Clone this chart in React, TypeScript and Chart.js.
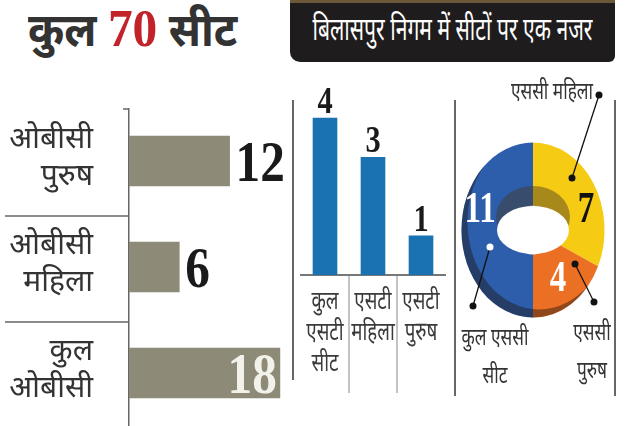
import React, { useEffect, useRef } from "react";
import { Chart, registerables } from "chart.js";

Chart.register(...registerables);

// ---------- data ----------
const titleLeft = "कुल";
const titleNumber = "70";
const titleRight = "सीट";
const headerText = "बिलासपुर निगम में सीटों पर एक नजर";

const obcLabels = [["ओबीसी", "पुरुष"], ["ओबीसी", "महिला"], ["कुल", "ओबीसी"]];
const obcValues = [12, 6, 18];

const stLabels = [["कुल", "एसटी", "सीट"], ["एसटी", "महिला"], ["एसटी", "पुरुष"]];
const stValues = [4, 3, 1];

const scLabels = [["एससी महिला"], ["एससी", "पुरुष"], ["कुल एससी", "सीट"]];
const scValues = [7, 4, 11];

// ---------- styles ----------
const DEV = '"Noto Sans Devanagari", "Lohit Devanagari", "Noto Sans", sans-serif';
const NUM = '"Liberation Serif", "DejaVu Serif", serif';
const OBC_COLOR = "#8d8a77";
const ST_COLOR = "#1b72b2";
const SC_COLORS = ["#f6cb14", "#ec7024", "#2c5eab"];
const LINE = "#666";

function drawNum(
  ctx: CanvasRenderingContext2D,
  text: string,
  x: number,
  y: number,
  size: number,
  color: string,
  align: CanvasTextAlign,
  sx = 0.85
) {
  ctx.save();
  ctx.translate(x, y);
  ctx.scale(sx, 1);
  ctx.font = `bold ${size}px ${NUM}`;
  ctx.fillStyle = color;
  ctx.textAlign = align;
  ctx.textBaseline = "alphabetic";
  ctx.fillText(text, 0, 0);
  ctx.restore();
}

function drawText(
  ctx: CanvasRenderingContext2D,
  text: string,
  x: number,
  y: number,
  size: number,
  color: string,
  align: CanvasTextAlign,
  sx = 0.75
) {
  ctx.save();
  ctx.translate(x, y);
  ctx.scale(sx, 1);
  ctx.font = `${size}px ${DEV}`;
  ctx.fillStyle = color;
  ctx.textAlign = align;
  ctx.textBaseline = "alphabetic";
  ctx.fillText(text, 0, 0);
  ctx.restore();
}

const obcPlugin = {
  id: "obcDeco",
  afterDraw(chart: any) {
    const { ctx, chartArea } = chart;
    const y = chart.scales.y;
    ctx.save();
    ctx.strokeStyle = LINE;
    ctx.lineWidth = 1.5;
    for (let i = 1; i < obcValues.length; i++) {
      const py = (y.getPixelForTick(i - 1) + y.getPixelForTick(i)) / 2 + 2;
      ctx.beginPath();
      ctx.moveTo(5, py);
      ctx.lineTo(chartArea.left, py);
      ctx.stroke();
    }
    ctx.beginPath();
    ctx.moveTo(chartArea.left - 6, chartArea.top + 1);
    ctx.lineTo(chartArea.left, chartArea.top + 1);
    ctx.stroke();
    ctx.restore();

    const meta = chart.getDatasetMeta(0);
    const size = 56;
    const sx = 0.88;
    meta.data.forEach((bar: any, i: number) => {
      const text = String(obcValues[i]);
      ctx.save();
      ctx.font = `bold ${size}px ${NUM}`;
      const w = ctx.measureText(text).width * sx;
      ctx.restore();
      const base = bar.y + 20;
      if (bar.x + 7 + w > chart.width) {
        drawNum(ctx, text, bar.x - 3, base, size, "#f3f2ea", "right", sx);
      } else {
        drawNum(ctx, text, bar.x + 6, base, size, "#1a1a1a", "left", sx);
      }
    });
  },
};

const stPlugin = {
  id: "stDeco",
  afterDraw(chart: any) {
    const { ctx, chartArea } = chart;
    const x = chart.scales.x;
    ctx.save();
    ctx.strokeStyle = "#888";
    ctx.lineWidth = 1;
    for (let i = 1; i < stValues.length; i++) {
      const px = (x.getPixelForTick(i - 1) + x.getPixelForTick(i)) / 2;
      ctx.beginPath();
      ctx.moveTo(px, chartArea.bottom);
      ctx.lineTo(px, chartArea.bottom + 118);
      ctx.stroke();
    }
    ctx.restore();
    x.ticks.forEach((t: any, i: number) => {
      const px = x.getPixelForTick(i);
      stLabels[i].forEach((line, k) => {
        drawText(ctx, line, px, chartArea.bottom + 34 + k * 31, 26, "#3a3a3a", "center", 0.72);
      });
    });
    const meta = chart.getDatasetMeta(0);
    meta.data.forEach((bar: any, i: number) => {
      drawNum(ctx, String(stValues[i]), bar.x, bar.y - 5, 38, "#1a1a1a", "center", 0.8);
    });
  },
};

const SX = 0.894;
const SY = 1.094;
const scNumPlace = [
  { a: 70, r: 63, color: "#111" },
  { a: 146, r: 50, color: "#ffffff" },
  { a: 290, r: 63, color: "#ffffff" },
];
const scLeaders = [
  { o: [66, -135], i: [39, -52], t: [60, -131], align: "right" as CanvasTextAlign, dotColor: "#111" },
  { o: [61, 72], i: [42, 34], t: [59, 110], align: "center" as CanvasTextAlign, dotColor: "#111" },
  { o: [-60, 76], i: [-43, 17], t: [-38, 115], align: "center" as CanvasTextAlign, dotColor: "#fff" },
];

const scPlugin = {
  id: "scDeco",
  beforeDatasetsDraw(chart: any) {
    const arc = chart.getDatasetMeta(0).data[0];
    const { ctx } = chart;
    ctx.save();
    ctx.translate(arc.x, arc.y);
    ctx.scale(SX, SY);
    ctx.translate(-arc.x, -arc.y);
  },
  afterDatasetsDraw(chart: any) {
    const { ctx } = chart;
    ctx.restore();
    const meta = chart.getDatasetMeta(0);
    const arc0 = meta.data[0];
    const cx = arc0.x;
    const cy = arc0.y;
    const R = arc0.outerRadius;
    ctx.save();
    ctx.beginPath();
    ctx.ellipse(cx, cy, R * SX, R * SY, 0, 0, Math.PI * 2);
    ctx.clip();
    ctx.beginPath();
    ctx.rect(cx - R, cy - R * 1.2, R * 2, R * 2.4);
    ctx.ellipse(cx + 6, cy - 8, R * SX, R * SY, 0, 0, Math.PI * 2, true);
    ctx.fillStyle = "rgba(30,25,20,0.45)";
    ctx.fill("evenodd");
    ctx.beginPath();
    ctx.ellipse(cx, cy - 13, 37, 31, 0, 0, Math.PI * 2);
    ctx.fillStyle = "rgba(70,55,35,0.45)";
    ctx.fill();
    ctx.restore();
    ctx.save();
    ctx.fillStyle = "#ffffff";
    ctx.beginPath();
    ctx.ellipse(cx, cy, 36, 24, 0, 0, Math.PI * 2);
    ctx.fill();
    ctx.restore();
    meta.data.forEach((_: any, i: number) => {
      const p = scNumPlace[i];
      const rad = (p.a * Math.PI) / 180;
      const px = cx + Math.sin(rad) * p.r * SX;
      const py = cy - Math.cos(rad) * p.r * SY;
      drawNum(ctx, String(scValues[i]), px, py + 16, 44, p.color, "center", 0.75);
    });
    scLeaders.forEach((l, i) => {
      ctx.save();
      ctx.strokeStyle = "#111";
      ctx.lineWidth = 1.3;
      ctx.beginPath();
      ctx.moveTo(cx + l.o[0], cy + l.o[1]);
      ctx.lineTo(cx + l.i[0], cy + l.i[1]);
      ctx.stroke();
      ctx.fillStyle = "#111";
      ctx.beginPath();
      ctx.arc(cx + l.o[0], cy + l.o[1], 3.5, 0, Math.PI * 2);
      ctx.fill();
      ctx.fillStyle = l.dotColor;
      ctx.beginPath();
      ctx.arc(cx + l.i[0], cy + l.i[1], 3.5, 0, Math.PI * 2);
      ctx.fill();
      ctx.restore();
      scLabels[i].forEach((line, k) => {
        drawText(ctx, line, cx + l.t[0], cy + l.t[1] + k * 38, 24, "#333", l.align, 0.72);
      });
    });
  },
};

function useChart(ref: React.RefObject<HTMLCanvasElement | null>, make: (c: HTMLCanvasElement) => Chart) {
  useEffect(() => {
    if (!ref.current) return;
    const ch = make(ref.current);
    return () => ch.destroy();
  }, []);
}

export default function App() {
  const obcRef = useRef<HTMLCanvasElement>(null);
  const stRef = useRef<HTMLCanvasElement>(null);
  const scRef = useRef<HTMLCanvasElement>(null);

  useChart(obcRef, (c) =>
    new Chart(c, {
      type: "bar",
      data: {
        labels: obcLabels,
        datasets: [{ data: obcValues, backgroundColor: OBC_COLOR, barThickness: 50 }],
      },
      options: {
        indexAxis: "y",
        animation: false,
        responsive: false,
        layout: { padding: 0 },
        plugins: { legend: { display: false }, tooltip: { enabled: false } },
        scales: {
          x: { display: false, min: 0, max: 20.4 },
          y: {
            afterFit: (s: any) => {
              s.width = 129;
              s.paddingTop = 0;
              s.paddingBottom = 0;
            },
            grid: { display: false, drawTicks: false },
            border: { display: true, color: LINE, width: 1.5 },
            ticks: {
              padding: 36,
              color: "#333",
              font: { family: DEV, size: 30, lineHeight: 1.25 },
            },
          },
        },
      },
      plugins: [obcPlugin],
    } as any)
  );

  useChart(stRef, (c) =>
    new Chart(c, {
      type: "bar",
      data: {
        labels: stLabels,
        datasets: [{ data: stValues, backgroundColor: ST_COLOR, barThickness: 24 }],
      },
      options: {
        animation: false,
        responsive: false,
        layout: { padding: { left: 7, right: 9, top: 19, bottom: 0 } },
        plugins: { legend: { display: false }, tooltip: { enabled: false } },
        scales: {
          x: {
            afterFit: (s: any) => {
              s.height = 130;
              s.paddingLeft = 0;
              s.paddingRight = 0;
            },
            grid: { display: false, drawTicks: false },
            border: { display: true, color: "#777", width: 2 },
            ticks: { display: false, autoSkip: false },
          },
          y: { display: false, min: 0, max: 5 },
        },
      },
      plugins: [stPlugin],
    } as any)
  );

  useChart(scRef, (c) =>
    new Chart(c, {
      type: "doughnut",
      data: {
        labels: scLabels.map((l) => l.join(" ")),
        datasets: [
          { data: scValues, backgroundColor: SC_COLORS, borderWidth: 0, clip: false },
        ],
      },
      options: {
        animation: false,
        responsive: false,
        cutout: "28%",
        layout: { padding: { left: 0, right: 2, top: 90, bottom: 100 } },
        plugins: { legend: { display: false }, tooltip: { enabled: false } },
      },
      plugins: [scPlugin],
    } as any)
  );

  const abs = (l: number, t: number, w: number, h: number): React.CSSProperties => ({
    position: "absolute",
    left: l,
    top: t,
    width: w,
    height: h,
  });
  const vline = (x: number, y1: number, y2: number) => (
    <div style={{ ...abs(x, y1, 1.5, y2 - y1), background: LINE }} />
  );

  return (
    <div style={{ position: "absolute", left: 0, top: 0, width: 640, height: 426, background: "#fff", overflow: "hidden" }}>
      <div
        style={{
          position: "absolute",
          left: 28,
          top: 0,
          height: 58,
          lineHeight: "58px",
          whiteSpace: "nowrap",
          fontFamily: DEV,
          fontWeight: 700,
          fontSize: 46,
          color: "#333",
          transform: "scaleX(0.95)",
          transformOrigin: "0 0",
        }}
      >
        {titleLeft}{" "}
        <span style={{ fontFamily: NUM, fontSize: 52, color: "#c2232a" }}>{titleNumber}</span>{" "}
        {titleRight}
      </div>
      <div
        style={{
          ...abs(290, 0, 325, 62),
          background: "#1e1c1c",
          borderTop: "3px solid #6a5838",
          boxSizing: "border-box",
          borderRadius: "0 0 6px 10px",
          overflow: "hidden",
        }}
      >
        <div
          style={{
            position: "absolute",
            left: -140,
            top: 0,
            width: 605,
            height: 59,
            color: "#fff",
            fontFamily: DEV,
            fontSize: 32,
            lineHeight: "58px",
            textAlign: "center",
            whiteSpace: "nowrap",
            transform: "scaleX(0.66)",
            transformOrigin: "50% 50%",
          }}
        >
          {headerText}
        </div>
      </div>
      <canvas ref={obcRef} width={300} height={318} style={abs(0, 108, 300, 318)} />
      <canvas ref={stRef} width={160} height={345} style={abs(294, 60, 160, 345)} />
      <canvas ref={scRef} width={162} height={350} style={abs(453, 60, 162, 350)} />
      {vline(292, 100, 380)}
      {vline(454, 100, 396)}
      {vline(614, 100, 396)}
    </div>
  );
}
